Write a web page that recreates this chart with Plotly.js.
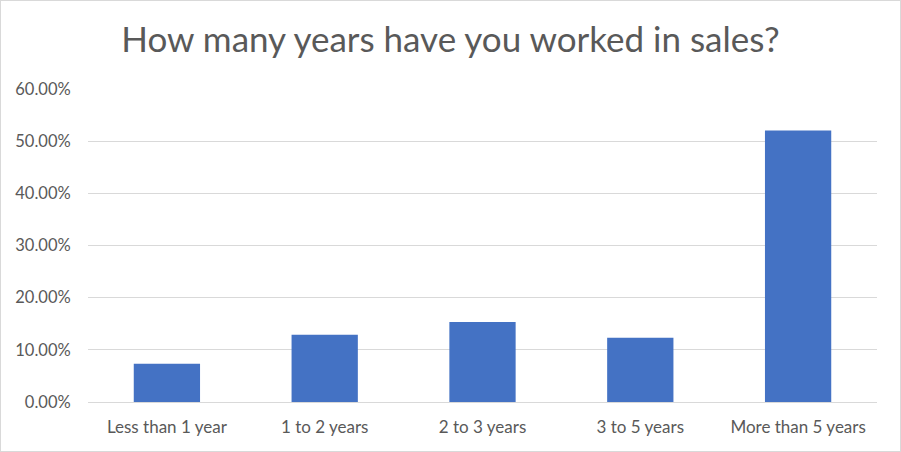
<!DOCTYPE html>
<html>
<head>
<meta charset="utf-8">
<script src="https://cdn.plot.ly/plotly-3.0.1.min.js"></script>
<style>
  html, body { margin: 0; padding: 0; background: #ffffff; }
  #frame { width: 901px; height: 452px; box-sizing: border-box; border: 1px solid #d9d9d9; }
  #chart { width: 899px; height: 450px; }
</style>
</head>
<body>
<div id="frame"><div id="chart"></div></div>
<script>
// Survey answers: years spent working in sales
const categories = ["Less than 1 year", "1 to 2 years", "2 to 3 years", "3 to 5 years", "More than 5 years"];
const shares = [0.0732, 0.1288, 0.1535, 0.1230, 0.5206];
const yTicks = [0, 0.1, 0.2, 0.3, 0.4, 0.5, 0.6];
const yTickLabels = ["0.00%", "10.00%", "20.00%", "30.00%", "40.00%", "50.00%", "60.00%"];

const font = "Lato, 'Open Sans', sans-serif";

const trace = {
  type: "bar",
  x: categories,
  y: shares,
  marker: { color: "#4472C4" },
  hoverinfo: "x+y"
};

const layout = {
  width: 899,
  height: 450,
  margin: { l: 87, r: 23, t: 87.5, b: 48.7 },
  paper_bgcolor: "#ffffff",
  plot_bgcolor: "#ffffff",
  bargap: 0.58,
  showlegend: false,
  title: {
    text: "How many years have you worked in sales?",
    font: { family: font, size: 35, color: "#595959" },
    x: 0.5,
    xanchor: "center",
    y: 0.914,
    yanchor: "middle"
  },
  xaxis: {
    type: "category",
    showgrid: false,
    showline: false,
    zeroline: false,
    ticks: "outside",
    ticklen: 10,
    tickcolor: "rgba(0,0,0,0)",
    tickfont: { family: font, size: 17, color: "#595959" }
  },
  yaxis: {
    range: [0, 0.6],
    tickvals: yTicks,
    ticktext: yTickLabels,
    showgrid: true,
    gridcolor: "#d9d9d9",
    gridwidth: 1,
    zeroline: true,
    zerolinecolor: "#d9d9d9",
    zerolinewidth: 1,
    showline: false,
    ticks: "outside",
    ticklen: 13,
    tickcolor: "rgba(0,0,0,0)",
    tickfont: { family: font, size: 16.5, color: "#595959" }
  }
};

Plotly.newPlot("chart", [trace], layout, { displayModeBar: false, staticPlot: true });
</script>
</body>
</html>
